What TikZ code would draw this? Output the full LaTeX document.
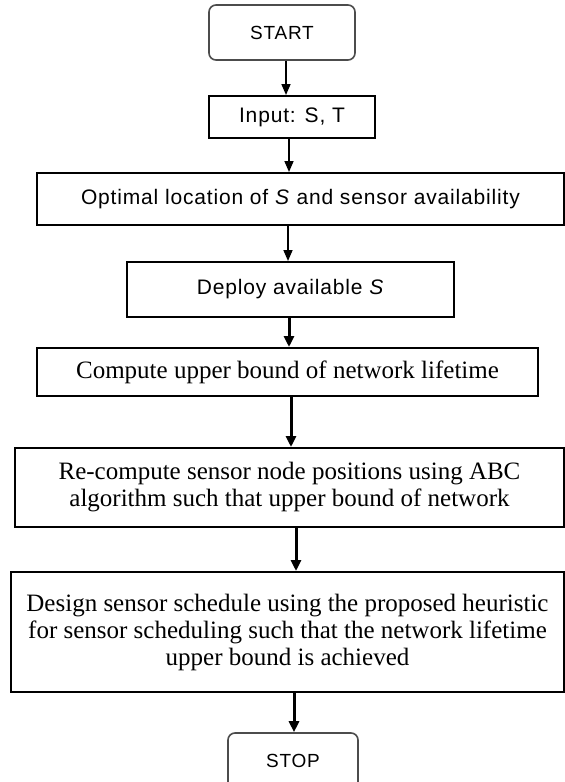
\documentclass[tikz,border=0pt]{standalone}
\usepackage{fontspec}
\setmainfont{Liberation Serif}
\newfontfamily\sansf[LetterSpace=4]{Liberation Sans}
\usetikzlibrary{arrows.meta}
\begin{document}
\begin{tikzpicture}[x=1pt,y=-1pt,
  box/.style={draw, line width=2pt, inner sep=0pt, align=center},
  sbox/.style={box, font=\sansf\fontsize{21}{25}\selectfont},
  rbox/.style={box, font=\fontsize{25}{27}\selectfont},
  term/.style={draw=black!70, line width=1.6pt, rounded corners=7pt, inner sep=0pt, font=\sansf\fontsize{19}{22}\selectfont},
  arr/.style={line width=1.6pt, -{Triangle[width=9pt,length=11pt]}},
  arrb/.style={line width=3pt, -{Triangle[width=10pt,length=11pt]}}]
\useasboundingbox (0,0) rectangle (565,782);
\node[term, minimum width=146pt, minimum height=55pt] (start) at (282,32.5) {START};
\node[sbox, minimum width=166pt, minimum height=42pt] (input) at (292,117) {Input: S, T};
\node[sbox, minimum width=527pt, minimum height=52pt] (opt) at (300.5,199) {Optimal location of \textit{S} and sensor availability};
\node[sbox, minimum width=327pt, minimum height=55pt] (deploy) at (290.5,289.5) {Deploy available \textit{S}};
\node[rbox, minimum width=501pt, minimum height=48pt] (comp) at (287.5,372) {Compute upper bound of network lifetime};
\node[rbox, minimum width=549pt, minimum height=79pt] (recomp) at (289.5,487.5) {Re-compute sensor node positions using ABC\\algorithm such that upper bound of network};
\node[rbox, minimum width=553pt, minimum height=120pt] (design) at (287.5,632) {Design sensor schedule using the proposed heuristic\\for sensor scheduling such that the network lifetime\\upper bound is achieved};
\node[term, minimum width=130pt, minimum height=56pt] (stop) at (293,761) {STOP};
\draw[arr] (start.south -| 286,0) -- (input.north -| 286,0);
\draw[arr] (input.south -| 289,0) -- (opt.north -| 289,0);
\draw[arr] (opt.south -| 288,0) -- (deploy.north -| 288,0);
\draw[arrb] (deploy.south -| 289,0) -- (comp.north -| 289,0);
\draw[arrb] (comp.south -| 291,0) -- (recomp.north -| 291,0);
\draw[arrb] (recomp.south -| 296,0) -- (design.north -| 296,0);
\draw[arrb] (design.south -| 294,0) -- (stop.north -| 294,0);
\end{tikzpicture}
\end{document}
